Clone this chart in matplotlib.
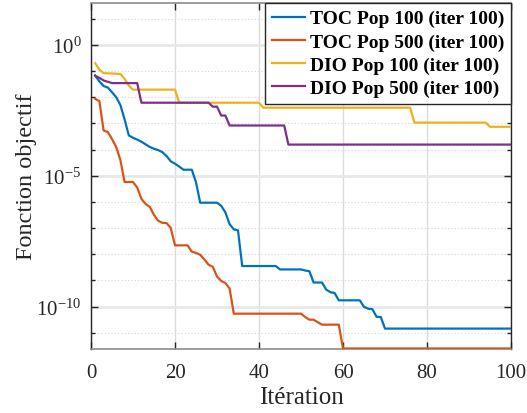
import numpy as np
import matplotlib
matplotlib.use("Agg")
import matplotlib.pyplot as plt
from matplotlib.ticker import FixedLocator, FixedFormatter, NullFormatter

plt.rcParams['font.family'] = ['Liberation Serif', 'DejaVu Serif']
plt.rcParams['mathtext.fontset'] = 'custom'
plt.rcParams['mathtext.rm'] = 'Liberation Serif'
plt.rcParams['mathtext.it'] = 'Liberation Serif:italic'
plt.rcParams['mathtext.bf'] = 'Liberation Serif:bold'

# ---- data (iteration, log10 of objective) ----
iter_toc100 = [1, 2, 3, 4, 5, 6, 7, 8, 9, 10, 11, 12, 13, 14, 15, 16, 17, 18, 19, 20,
               21, 22, 24, 25, 26, 30, 31, 32, 33, 34, 35, 36, 44, 45, 50, 51, 52, 53,
               55, 56, 57, 58, 59, 64, 65, 66, 67, 68, 69, 70, 100]
exp_toc100 = [-1.17, -1.40, -1.57, -1.63, -1.81, -2.00, -2.30, -2.85, -3.46, -3.55, -3.62,
              -3.70, -3.80, -3.90, -3.97, -4.02, -4.10, -4.25, -4.45, -4.54,
              -4.65, -4.77, -4.77, -5.25, -6.03, -6.03, -6.15, -6.40, -6.85, -7.05, -7.09,
              -8.45, -8.45, -8.58, -8.58, -8.62, -8.65, -9.08,
              -9.08, -9.35, -9.45, -9.48, -9.76, -9.76, -10.01, -10.08, -10.10, -10.39,
              -10.40, -10.84, -10.84]

iter_toc500 = [1, 2, 3, 4, 5, 6, 7, 8, 10, 11, 12, 13, 14, 15, 16, 17, 18, 19, 20, 23,
               24, 25, 26, 27, 28, 29, 30, 31, 32, 33, 34, 50, 51, 52, 53, 54, 55, 59, 60, 100]
exp_toc500 = [-2.06, -2.15, -3.27, -3.33, -3.60, -3.90, -4.40, -5.24, -5.24, -5.45, -5.88,
              -6.08, -6.19, -6.50, -6.72, -6.80, -6.81, -7.00, -7.66, -7.66,
              -7.90, -7.95, -8.02, -8.20, -8.40, -8.48, -8.85, -9.02, -9.10, -9.31, -10.27,
              -10.27, -10.40, -10.50, -10.50, -10.60, -10.69, -10.69, -11.60, -11.60]

iter_dio100 = [1, 2, 3, 7, 8, 9, 10, 20, 21, 40, 41, 76, 77, 94, 95, 100]
exp_dio100 = [-0.70, -0.95, -1.08, -1.11, -1.30, -1.56, -1.71, -1.71, -2.21, -2.21,
              -2.40, -2.40, -2.97, -2.97, -3.13, -3.13]

iter_dio500 = [1, 2, 3, 4, 5, 11, 12, 28, 29, 30, 31, 32, 33, 46, 47, 100]
exp_dio500 = [-1.18, -1.26, -1.36, -1.41, -1.46, -1.46, -2.21, -2.21, -2.36, -2.36,
              -2.70, -2.70, -3.08, -3.08, -3.81, -3.81]

series_labels = ['TOC Pop 100 (iter 100)', 'TOC Pop 500 (iter 100)',
                 'DIO Pop 100 (iter 100)', 'DIO Pop 500 (iter 100)']
series_colors = ['#0072BD', '#D95319', '#EDB120', '#7E2F8E']

xticks = [0, 20, 40, 60, 80, 100]
yticks = [1e-10, 1e-5, 1e0]
ytick_labels = ['10$^{-10}$', '10$^{-5}$', '10$^{0}$']
yminor = [10.0 ** k for k in range(-11, 2)]

fig = plt.figure(figsize=(5.27, 4.14), dpi=100)
ax = fig.add_axes([91 / 527, 1 - 350 / 414, 420 / 527, 346 / 414])

series = [(iter_toc100, exp_toc100), (iter_toc500, exp_toc500),
          (iter_dio100, exp_dio100), (iter_dio500, exp_dio500)]
for (xs, es), lab, col in zip(series, series_labels, series_colors):
    ax.plot(xs, np.power(10.0, es), color=col, lw=1.6, label=lab, zorder=3)

ax.set_yscale('log')
ax.set_xlim(0, 100)
ax.set_ylim(10 ** -11.62, 10 ** 1.6)
ax.xaxis.set_major_locator(FixedLocator(xticks))
ax.yaxis.set_major_locator(FixedLocator(yticks))
ax.yaxis.set_major_formatter(FixedFormatter(ytick_labels))
ax.yaxis.set_minor_locator(FixedLocator(yminor))
ax.yaxis.set_minor_formatter(NullFormatter())

ax.grid(True, axis='x', which='major', color='#dcdcdc', lw=1.0, zorder=0)
ax.grid(True, axis='y', which='major', color='#e8e8e8', lw=2.0, zorder=0)
ax.grid(True, axis='y', which='minor', color='#d4d4d4', lw=0.8, ls=(0, (1, 2)), zorder=0)
ax.set_axisbelow(True)

ax.tick_params(which='both', direction='in', top=True, right=True,
               labelsize=15, colors='#262626', length=5, width=1)
ax.tick_params(which='minor', length=3)
ax.tick_params(axis='x', which='major', pad=10)
ax.tick_params(axis='y', which='major', pad=7)
for lbl in ax.get_xticklabels() + ax.get_yticklabels():
    lbl.set_color('#262626')

for side in ['left', 'right']:
    ax.spines[side].set_color('#262626')
    ax.spines[side].set_linewidth(1.0)
for side in ['top', 'bottom']:
    ax.spines[side].set_color('#8c8c8c')
    ax.spines[side].set_linewidth(1.2)

ax.set_xlabel('Itération', fontsize=18, color='#262626', labelpad=3)
ax.set_ylabel('Fonction objectif', fontsize=17.5, color='#262626', labelpad=-1)

leg = ax.legend(loc='upper right', prop={'weight': 'bold', 'size': 14},
                borderaxespad=0, fancybox=False, framealpha=1, edgecolor='#262626',
                handlelength=1.7, handletextpad=0.25, labelspacing=0.28,
                borderpad=0.35)
leg.get_frame().set_linewidth(1.0)

fig.savefig('out.png', dpi=100)
